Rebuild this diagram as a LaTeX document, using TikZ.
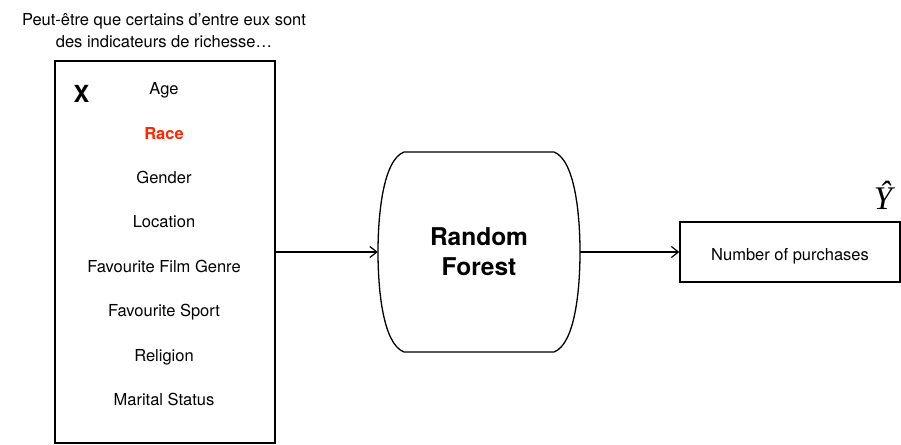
\documentclass[tikz,border=0pt]{standalone}
\usepackage{fontspec}
\setmainfont{TeX Gyre Heros}
\newfontfamily\hatfont{Liberation Serif}
\usepackage{xcolor}
\usetikzlibrary{arrows.meta,positioning}

\definecolor{racered}{RGB}{255,38,0}

\tikzset{
    featbox/.style={draw, line width=1.3pt, minimum width=220pt, minimum height=382pt, inner sep=0pt},
    feat/.style={anchor=base, font=\fontsize{16.5}{20}\selectfont},
    outbox/.style={draw, line width=1.3pt, minimum width=220pt, minimum height=60pt,
        text height=16pt, text depth=0pt, font=\fontsize{16.5}{20}\selectfont},
    flow/.style={line width=1.2pt, -{Straight Barb[length=7pt,width=11pt,line width=1.2pt]}}
}

\begin{document}
\begin{tikzpicture}[x=1pt,y=-1pt]
    \useasboundingbox (0,0) rectangle (901,444);
    % input features
    \node[featbox] (feats) at (165,252) {};
    \node[font=\fontsize{23.5}{26}\selectfont\bfseries] (xlab) at (81.5,94) {X};
    \node[feat] (age) at (164,94.5) {Age};
    \node[feat,text=racered,font=\fontsize{16.5}{20}\selectfont\bfseries] (race) at (164,139) {Race};
    \node[feat] (gender) at (164,183.4) {Gender};
    \node[feat] (location) at (164,227.8) {Location};
    \node[feat] (film) at (164,272.2) {Favourite Film Genre};
    \node[feat] (sport) at (164,316.7) {Favourite Sport};
    \node[feat] (religion) at (164,361.1) {Religion};
    \node[feat] (marital) at (164,405.6) {Marital Status};
    \node[align=center,font=\fontsize{16.5}{21.5}\selectfont] (note) at (164,30.5)
        {Peut-être que certains d’entre eux sont\\des indicateurs de richesse…};
    % model
    \node[minimum width=202pt, minimum height=200pt, align=center,
          font=\fontsize{24.5}{30}\selectfont\bfseries] (rf) at (479,252) {Random\\Forest};
    \draw[line width=1.3pt] (404,152) -- (554,152)
        .. controls (575,160) and (580,215) .. (580,252)
        .. controls (580,290) and (575,344) .. (554,352)
        -- (404,352)
        .. controls (383,344) and (378,290) .. (378,252)
        .. controls (378,215) and (383,160) .. (404,152) -- cycle;
    % output
    \node[outbox] (out) at (790,252) {Number of purchases};
    \node[anchor=base, font=\fontsize{33}{34}\selectfont\hatfont\itshape] (yhat) at (883,209) {Ŷ};
    \draw[flow] (feats) -- (rf);
    \draw[flow] (rf) -- (out);
\end{tikzpicture}
\end{document}
